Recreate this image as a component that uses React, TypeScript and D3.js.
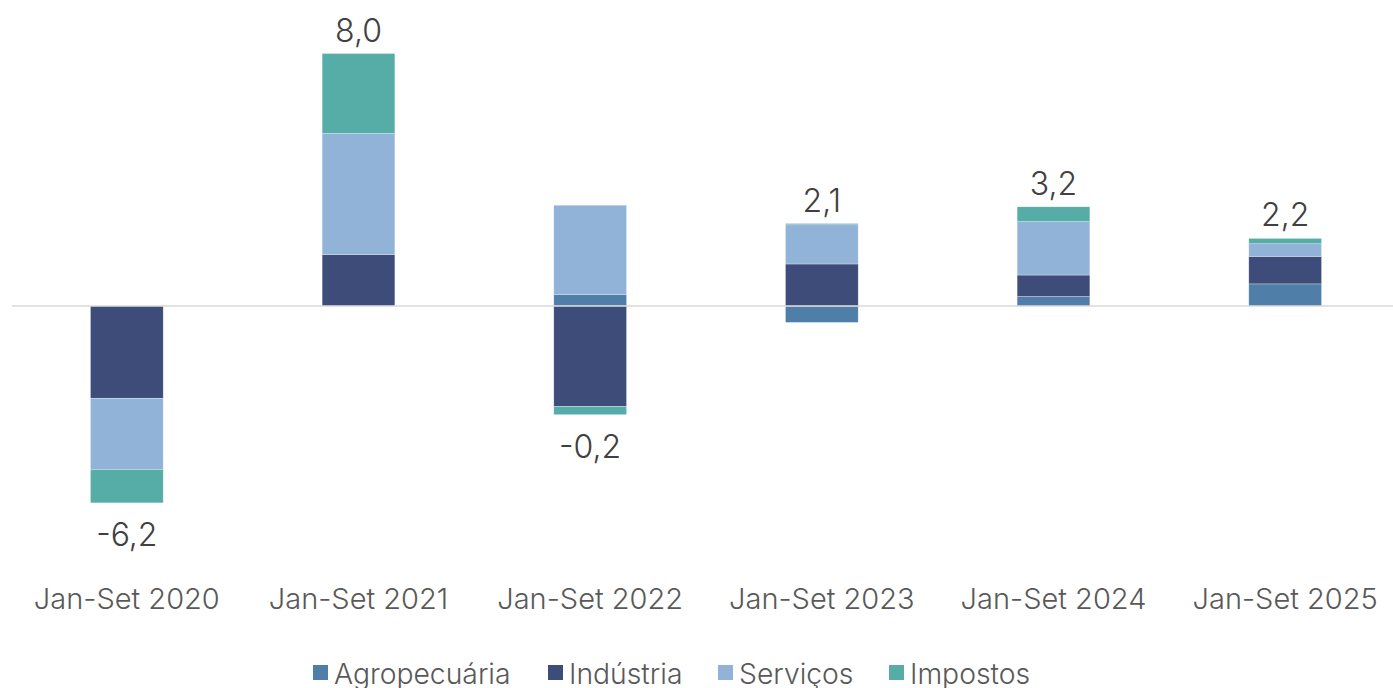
import React, { useEffect, useRef } from 'react';
import * as d3 from 'd3';

const categories = ['Jan-Set 2020', 'Jan-Set 2021', 'Jan-Set 2022', 'Jan-Set 2023', 'Jan-Set 2024', 'Jan-Set 2025'];
const seriesNames = ['Agropecuária', 'Indústria', 'Serviços', 'Impostos'];
const agropecuaria = [0.0, 0.0, 0.37, -0.52, 0.30, 0.70];
const industria = [-2.92, 1.63, -3.18, 1.33, 0.68, 0.87];
const servicos = [-2.25, 3.83, 2.82, 1.24, 1.69, 0.40];
const impostos = [-1.06, 2.53, -0.26, 0.04, 0.47, 0.17];
const totals = ['-6,2', '8,0', '-0,2', '2,1', '3,2', '2,2'];
const seriesColors = ['#4f7ea8', '#3e4c7a', '#91b3d8', '#56aca7'];

const W = 1393;
const H = 688;

const App = () => {
  const svgRef = useRef(null);

  useEffect(() => {
    const svg = d3.select(svgRef.current);
    svg.selectAll('*').remove();

    const rows = categories.map((c, i) => ({
      cat: c,
      'Agropecuária': agropecuaria[i],
      'Indústria': industria[i],
      'Serviços': servicos[i],
      'Impostos': impostos[i],
    }));

    const stack = d3.stack().keys(seriesNames).offset(d3.stackOffsetDiverging);
    const stacked = stack(rows);

    // plot area
    const x = d3.scaleBand().domain(categories).range([11, 1401]).padding(0);
    const barW = x.bandwidth() * 0.314;
    const pxPerUnit = 31.6;
    const zeroY = 306;
    const y = d3.scaleLinear().domain([-8, 9]).range([zeroY + 8 * pxPerUnit, zeroY - 9 * pxPerUnit]);

    const font = 'Inter, "Noto Sans", sans-serif';

    stacked.forEach((s, si) => {
      svg.append('g')
        .selectAll('rect')
        .data(s)
        .enter().append('rect')
        .attr('x', d => x(d.data.cat) + (x.bandwidth() - barW) / 2)
        .attr('width', barW)
        .attr('y', d => y(Math.max(d[0], d[1])))
        .attr('height', d => Math.abs(y(d[0]) - y(d[1])))
        .attr('fill', seriesColors[si])
        .attr('stroke', '#ffffff')
        .attr('stroke-opacity', 0.5)
        .attr('stroke-width', 0.6);
    });

    // zero line (drawn over the bars)
    svg.append('line')
      .attr('x1', 12).attr('x2', W)
      .attr('y1', y(0)).attr('y2', y(0))
      .attr('stroke', '#d9d9d9').attr('stroke-width', 1.5);

    // total labels
    categories.forEach((c, i) => {
      const top = d3.max(stacked, s => Math.max(s[i][0], s[i][1]));
      const bottom = d3.min(stacked, s => Math.min(s[i][0], s[i][1]));
      const neg = totals[i].startsWith('-');
      svg.append('text')
        .attr('x', x(c) + x.bandwidth() / 2)
        .attr('y', neg ? y(bottom) + 43 : y(top) - 12)
        .attr('text-anchor', 'middle')
        .attr('font-family', font)
        .attr('font-weight', 300)
        .attr('font-size', 32)
        .attr('fill', '#404040')
        .text(totals[i]);
    });

    // category axis labels
    svg.append('g')
      .selectAll('text')
      .data(categories)
      .enter().append('text')
      .attr('x', d => x(d) + x.bandwidth() / 2)
      .attr('y', 609)
      .attr('text-anchor', 'middle')
      .attr('font-family', font)
      .attr('font-weight', 300)
      .attr('font-size', 29)
      .attr('fill', '#595959')
      .text(d => d);

    // legend
    const legendX = [313, 548, 718, 889];
    const legend = svg.append('g');
    seriesNames.forEach((n, i) => {
      legend.append('rect')
        .attr('x', legendX[i]).attr('y', 665)
        .attr('width', 15).attr('height', 15)
        .attr('fill', seriesColors[i]);
      legend.append('text')
        .attr('x', legendX[i] + 21)
        .attr('y', 684)
        .attr('font-family', font)
        .attr('font-weight', 300)
        .attr('font-size', 28.3)
        .attr('fill', '#595959')
        .text(n);
    });
  }, []);

  return (
    <svg
      ref={svgRef}
      width={W}
      height={H}
      style={{ position: 'absolute', left: 0, top: 0, background: '#fff' }}
    />
  );
};

export default App;
